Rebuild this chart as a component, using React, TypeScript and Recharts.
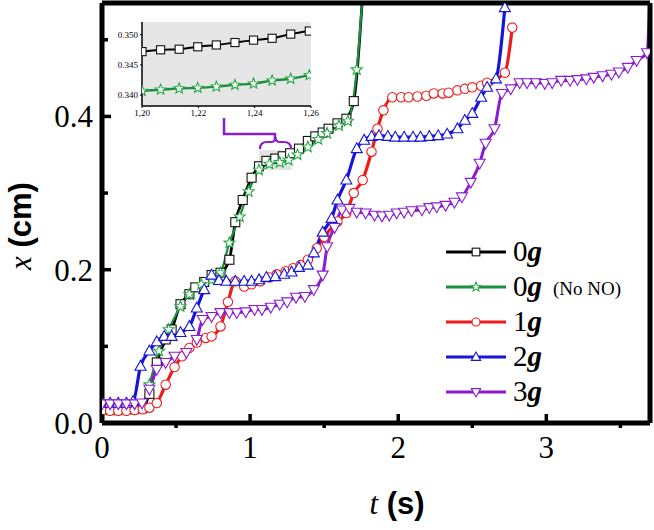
import React from 'react';
import { LineChart, Line, XAxis, YAxis, ReferenceArea, ReferenceLine, CartesianGrid } from 'recharts';

const T_MAX = 3.7;
const X_MAX = 0.548;
const xTicks = [0, 0.5, 1, 1.5, 2, 2.5, 3, 3.5];
const yTicks = [0, 0.1, 0.2, 0.3, 0.4, 0.5];

// [t (s), x (cm)]
const run0g: [number, number][] = [
  [0, 0.02], [0.055, 0.019], [0.11, 0.019], [0.165, 0.019], [0.22, 0.019], [0.275, 0.02],
  [0.32, 0.038], [0.37, 0.079], [0.43, 0.109], [0.47, 0.122], [0.53, 0.155], [0.59, 0.168],
  [0.63, 0.177], [0.69, 0.184], [0.74, 0.193], [0.8, 0.196], [0.86, 0.213], [0.9, 0.262],
  [0.95, 0.291], [1.01, 0.32], [1.06, 0.335], [1.11, 0.342], [1.17, 0.345], [1.22, 0.348],
  [1.27, 0.352], [1.33, 0.358], [1.39, 0.368], [1.44, 0.374], [1.49, 0.379], [1.53, 0.384],
  [1.59, 0.391], [1.65, 0.397], [1.7, 0.42], [1.76, 0.56],
];

const run0gNoNO: [number, number][] = [
  [0, 0.018], [0.055, 0.017], [0.11, 0.017], [0.165, 0.018], [0.22, 0.018], [0.275, 0.019],
  [0.32, 0.05], [0.385, 0.094], [0.45, 0.122], [0.53, 0.152], [0.59, 0.168], [0.67, 0.181],
  [0.74, 0.187], [0.8, 0.196], [0.86, 0.235], [0.93, 0.269], [0.99, 0.302], [1.06, 0.33],
  [1.13, 0.338], [1.2, 0.34], [1.26, 0.343], [1.32, 0.35], [1.39, 0.36], [1.46, 0.37],
  [1.52, 0.378], [1.6, 0.388], [1.66, 0.394], [1.72, 0.461], [1.76, 0.56],
];

const run1g: [number, number][] = [
  [0, 0.016], [0.055, 0.016], [0.11, 0.016], [0.165, 0.016], [0.22, 0.017], [0.275, 0.018],
  [0.32, 0.02], [0.37, 0.026], [0.43, 0.05], [0.49, 0.073], [0.54, 0.087], [0.59, 0.098],
  [0.64, 0.105], [0.7, 0.111], [0.74, 0.113], [0.8, 0.126], [0.85, 0.158], [0.9, 0.185],
  [0.96, 0.178], [1.01, 0.181], [1.07, 0.185], [1.13, 0.19], [1.18, 0.194], [1.24, 0.198],
  [1.29, 0.202], [1.34, 0.206], [1.39, 0.213], [1.45, 0.228], [1.5, 0.243], [1.59, 0.263],
  [1.65, 0.274], [1.7, 0.3], [1.76, 0.317], [1.82, 0.354], [1.86, 0.384], [1.9, 0.408],
  [1.96, 0.425], [2.02, 0.425], [2.07, 0.425], [2.13, 0.426], [2.19, 0.427], [2.24, 0.43],
  [2.3, 0.43], [2.34, 0.431], [2.4, 0.434], [2.45, 0.436], [2.5, 0.438], [2.56, 0.44],
  [2.6, 0.444], [2.72, 0.457], [2.77, 0.516],
];

const run2g: [number, number][] = [
  [0, 0.026], [0.055, 0.026], [0.11, 0.026], [0.165, 0.026], [0.21, 0.028], [0.26, 0.074],
  [0.32, 0.094], [0.37, 0.106], [0.42, 0.113], [0.47, 0.113], [0.53, 0.118], [0.59, 0.126],
  [0.64, 0.15], [0.69, 0.174], [0.74, 0.193], [0.79, 0.186], [0.84, 0.185], [0.9, 0.185],
  [0.96, 0.185], [1.01, 0.185], [1.06, 0.187], [1.11, 0.19], [1.17, 0.191], [1.23, 0.194],
  [1.28, 0.197], [1.33, 0.203], [1.39, 0.206], [1.43, 0.222], [1.49, 0.249], [1.55, 0.267],
  [1.59, 0.291], [1.65, 0.317], [1.72, 0.358], [1.77, 0.369], [1.82, 0.374], [1.87, 0.375],
  [1.93, 0.374], [1.98, 0.373], [2.04, 0.373], [2.1, 0.373], [2.15, 0.373], [2.21, 0.374],
  [2.27, 0.375], [2.33, 0.377], [2.4, 0.384], [2.45, 0.395], [2.5, 0.404], [2.56, 0.425],
  [2.6, 0.438], [2.66, 0.449], [2.72, 0.542],
];

const run3g: [number, number][] = [
  [0, 0.025], [0.055, 0.025], [0.11, 0.025], [0.165, 0.025], [0.22, 0.025], [0.27, 0.026],
  [0.32, 0.044], [0.37, 0.07], [0.43, 0.079], [0.49, 0.087], [0.57, 0.092], [0.64, 0.109],
  [0.68, 0.135], [0.74, 0.139], [0.8, 0.144], [0.86, 0.144], [0.91, 0.144], [0.97, 0.145],
  [1.03, 0.148], [1.08, 0.148], [1.14, 0.151], [1.2, 0.155], [1.25, 0.158], [1.31, 0.164],
  [1.37, 0.165], [1.43, 0.174], [1.49, 0.193], [1.52, 0.23], [1.57, 0.255], [1.62, 0.278],
  [1.67, 0.28], [1.72, 0.275], [1.78, 0.274], [1.84, 0.271], [1.89, 0.27], [1.94, 0.271],
  [1.99, 0.274], [2.04, 0.275], [2.09, 0.277], [2.16, 0.278], [2.21, 0.281], [2.26, 0.282],
  [2.32, 0.284], [2.38, 0.288], [2.43, 0.295], [2.49, 0.314], [2.55, 0.339], [2.59, 0.365],
  [2.65, 0.384], [2.7, 0.43], [2.76, 0.436], [2.82, 0.444], [2.87, 0.444], [2.93, 0.444],
  [2.99, 0.443], [3.04, 0.444], [3.1, 0.447], [3.16, 0.447], [3.21, 0.448], [3.27, 0.449],
  [3.32, 0.451], [3.38, 0.453], [3.44, 0.455], [3.49, 0.458], [3.55, 0.464], [3.61, 0.473],
  [3.68, 0.483], [3.7, 0.56],
];

// inset: zoom of 0g curves, 1.20 - 1.26 s
const insetT = [1.2, 1.2066, 1.2132, 1.2198, 1.2264, 1.233, 1.2396, 1.2462, 1.2528, 1.2594];
const inset0g = [0.3472, 0.3475, 0.3476, 0.348, 0.3483, 0.3487, 0.3491, 0.3494, 0.3501, 0.3506];
const inset0gNoNO = [0.3407, 0.3409, 0.3411, 0.3412, 0.3414, 0.3417, 0.3419, 0.3424, 0.3427, 0.3433];
const insetTTicks = [1.2, 1.22, 1.24, 1.26];
const insetXTicks = [0.34, 0.345, 0.35];

const legendDigits = ['0', '0', '1', '2', '3'];
const legendNotes = ['', '(No NO)', '', '', ''];

const SERIF = '"Liberation Serif", "Times New Roman", serif';
const SANS = '"Liberation Sans", Arial, sans-serif';

const toRows = (pts: [number, number][]) => pts.map(([t, x]) => ({ t, x }));

const SERIES = [
  { key: '0g', data: toRows(run0g), color: '#000000', mark: '#111111', shape: 'square', w: 2.8 },
  { key: '0gNoNO', data: toRows(run0gNoNO), color: '#1c8f3c', mark: '#27a847', shape: 'star', w: 2.2 },
  { key: '1g', data: toRows(run1g), color: '#ee1c1c', mark: '#ee1c1c', shape: 'circle', w: 3.2 },
  { key: '2g', data: toRows(run2g), color: '#1515d9', mark: '#1515d9', shape: 'up', w: 3.2 },
  { key: '3g', data: toRows(run3g), color: '#8b1ccf', mark: '#8b1ccf', shape: 'down', w: 3 },
];

function Marker({ shape, cx, cy, color, s = 1 }: any) {
  const common = { fill: '#fff', stroke: color, strokeWidth: 1.1 };
  if (shape === 'square') return <rect x={cx - 4.5 * s} y={cy - 4.5 * s} width={9 * s} height={9 * s} {...common} />;
  if (shape === 'circle') return <circle cx={cx} cy={cy} r={4.7 * s} {...common} />;
  if (shape === 'up')
    return <polygon points={`${cx},${cy - 5.8 * s} ${cx + 5.5 * s},${cy + 4 * s} ${cx - 5.5 * s},${cy + 4 * s}`} {...common} />;
  if (shape === 'down')
    return <polygon points={`${cx},${cy + 5.8 * s} ${cx + 5.5 * s},${cy - 4 * s} ${cx - 5.5 * s},${cy - 4 * s}`} {...common} />;
  const pts: string[] = [];
  for (let i = 0; i < 10; i++) {
    const r = (i % 2 === 0 ? 5.8 : 2.5) * s;
    const a = -Math.PI / 2 + (i * Math.PI) / 5;
    pts.push(`${cx + r * Math.cos(a)},${cy + r * Math.sin(a)}`);
  }
  return <polygon points={pts.join(' ')} {...common} />;
}

const makeDot = (shape: string, color: string, s = 1, yMax = X_MAX) => (p: any) => {
  const k = `${shape}-${p.index}`;
  if (p.cx == null || p.cy == null || p.payload.x > yMax) return <g key={k} />;
  return <Marker key={k} shape={shape} cx={p.cx} cy={p.cy} color={color} s={s} />;
};

const XTick = (p: any) => {
  const v = p.payload.value;
  const major = Math.abs(v - Math.round(v)) < 1e-6;
  return (
    <g>
      <line x1={p.x} x2={p.x} y1={p.y} y2={major ? p.y - 9 : p.y + 5} stroke="#000" strokeWidth={3.5} />
      {major && (
        <text x={p.x} y={p.y + 35} textAnchor="middle" fontFamily={SERIF} fontSize={31} fill="#000">
          {v}
        </text>
      )}
    </g>
  );
};

const YTick = (p: any) => {
  const v = p.payload.value;
  const major = Math.round(v * 10) % 2 === 0;
  return (
    <g>
      <line x1={p.x} x2={p.x + (major ? 9 : 6)} y1={p.y} y2={p.y} stroke="#000" strokeWidth={3.5} />
      {major && (
        <text x={p.x - 9} y={p.y + 11} textAnchor="end" fontFamily={SERIF} fontSize={31} fill="#000">
          {v.toFixed(1)}
        </text>
      )}
    </g>
  );
};

const frame = { stroke: '#000', strokeWidth: 5 };

export default function App() {
  const insetRows0 = insetT.map((t, i) => ({ t, x: inset0g[i] }));
  const insetRows1 = insetT.map((t, i) => ({ t, x: inset0gNoNO[i] }));
  return (
    <div style={{ position: 'absolute', left: 0, top: 0, width: 654, height: 530, background: '#fff' }}>
      <LineChart width={654} height={530} margin={{ top: 3, right: 4, bottom: 0, left: 0 }}>
        <XAxis
          type="number" dataKey="t" domain={[0, T_MAX]} ticks={xTicks} interval={0}
          allowDataOverflow height={107} axisLine={frame} tickLine={false} tickSize={0} tickMargin={0}
          tick={XTick}
        />
        <YAxis
          type="number" domain={[0, X_MAX]} ticks={yTicks} interval={0}
          allowDataOverflow width={102} axisLine={frame} tickLine={false} tickSize={0} tickMargin={0}
          tick={YTick}
        />
        <ReferenceArea x1={1.06} x2={1.28} y1={0.33} y2={0.356} fill="#e2e2e2" fillOpacity={1} stroke="none" />
        {SERIES.map((s) => (
          <Line
            key={s.key}
            data={s.data}
            dataKey="x"
            type="monotone"
            stroke={s.color}
            strokeWidth={s.w}
            dot={makeDot(s.shape, s.mark)}
            activeDot={false}
            isAnimationActive={false}
          />
        ))}
        <ReferenceLine y={X_MAX} stroke="#000" strokeWidth={5} ifOverflow="visible" />
        <ReferenceLine x={T_MAX} stroke="#000" strokeWidth={5} ifOverflow="visible" />
      </LineChart>

      <div style={{ position: 'absolute', left: 100, top: 15 }}>
        <LineChart width={225} height={110} margin={{ top: 7, right: 14, bottom: 0, left: 0 }}>
          <CartesianGrid fill="#e6e6e6" horizontal={false} vertical={false} />
          <XAxis
            type="number" dataKey="t" domain={[1.2, 1.26]} ticks={insetTTicks} interval={0} allowDataOverflow
            height={19} axisLine={{ stroke: '#000', strokeWidth: 1.5 }} tickLine={{ stroke: '#000' }} tickSize={2} tickMargin={2}
            tickFormatter={(v: number) => v.toFixed(2).replace('.', ',')}
            tick={{ fontFamily: SERIF, fontSize: 9, fill: '#000' }}
          />
          <YAxis
            type="number" domain={[0.3382, 0.3521]} ticks={insetXTicks} interval={0} allowDataOverflow
            width={42} axisLine={{ stroke: '#000', strokeWidth: 1.5 }} tickLine={{ stroke: '#000' }} tickSize={2} tickMargin={2}
            tickFormatter={(v: number) => v.toFixed(3)}
            tick={{ fontFamily: SERIF, fontSize: 9, fill: '#000' }}
          />
          <Line data={insetRows0} dataKey="x" type="monotone" stroke="#000" strokeWidth={2} dot={makeDot('square', '#111', 0.9, 1)} activeDot={false} isAnimationActive={false} />
          <Line data={insetRows1} dataKey="x" type="monotone" stroke="#1c8f3c" strokeWidth={2.4} dot={makeDot('star', '#27a847', 0.95, 1)} activeDot={false} isAnimationActive={false} />
        </LineChart>
      </div>

      <svg width={654} height={530} style={{ position: 'absolute', left: 0, top: 0, pointerEvents: 'none' }}>
        <path d="M224 118 V134 H275 V141" fill="none" stroke="#8b1ccf" strokeWidth={2.5} />
        <path
          d="M260 149 C260 144 262 142 267 142 L271 142 C274 142 275.5 140 275.5 137 C275.5 140 277 142 280 142 L284 142 C289 142 291 144 291 149"
          fill="none" stroke="#8b1ccf" strokeWidth={2.2}
        />
        <text transform="translate(31,226) rotate(-90)" textAnchor="middle" fontSize={31} fill="#000">
          <tspan fontFamily={SERIF} fontStyle="italic">x</tspan>
          <tspan fontFamily={SANS} fontWeight="bold"> (cm)</tspan>
        </text>
        <text x={397} y={514} textAnchor="middle" fontSize={31} fill="#000">
          <tspan fontFamily={SERIF} fontStyle="italic">t</tspan>
          <tspan fontFamily={SANS} fontWeight="bold"> (s)</tspan>
        </text>
        {SERIES.map((s, i) => {
          const y = 252 + i * 35;
          return (
            <g key={s.key}>
              <line x1={446} x2={506} y1={y} y2={y} stroke={s.color} strokeWidth={3} />
              <Marker shape={s.shape} cx={476} cy={y} color={s.mark} s={0.85} />
              <text x={513} y={y + 9} fontSize={29} fill="#000">
                <tspan fontFamily={SERIF}>{legendDigits[i]}</tspan>
                <tspan fontFamily={SERIF} fontStyle="italic" fontWeight="bold">g</tspan>
              </text>
              {legendNotes[i] && (
                <text x={553} y={y + 8} fontFamily={SERIF} fontSize={19} fill="#000">
                  {legendNotes[i]}
                </text>
              )}
            </g>
          );
        })}
      </svg>
    </div>
  );
}
